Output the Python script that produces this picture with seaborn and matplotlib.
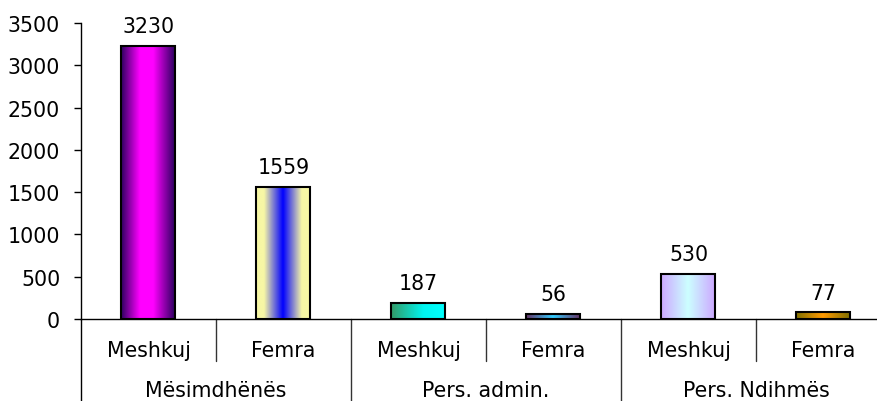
import numpy as np
import pandas as pd
import matplotlib
matplotlib.use("Agg")
import matplotlib.pyplot as plt
import seaborn as sns
from matplotlib.colors import LinearSegmentedColormap

groups = ["Mësimdhënës", "Pers. admin.", "Pers. Ndihmës"]
genders = ["Meshkuj", "Femra"]
values = [3230, 1559, 187, 56, 530, 77]
yticks = [0, 500, 1000, 1500, 2000, 2500, 3000, 3500]

bar_gradients = [
    [(0, "#2c0060"), (0.35, "#ff00ff"), (0.6, "#ff00ff"), (1, "#2c0060")],
    [(0, "#f7f7a5"), (0.15, "#f7f7a5"), (0.5, "#0000ff"), (0.85, "#f7f7a5"), (1, "#f7f7a5")],
    [(0, "#339966"), (0.6, "#00f5f0"), (1, "#00ffff")],
    [(0, "#663366"), (0.5, "#33ccff"), (1, "#663366")],
    [(0, "#cca8ff"), (0.5, "#ccffff"), (1, "#cca8ff")],
    [(0, "#807000"), (0.5, "#ff9900"), (1, "#807000")],
]

slots = [f"{g}|{s}" for g in groups for s in genders]
df = pd.DataFrame({"slot": slots, "value": values})

sns.set_style("white")
plt.rcParams["font.family"] = ["DejaVu Sans"]
plt.rcParams["text.color"] = "black"
plt.rcParams["xtick.color"] = "black"
plt.rcParams["ytick.color"] = "black"
FS = 14.8
AX_H = 296.0

fig = plt.figure(figsize=(8.78, 4.02), dpi=100)
ax = fig.add_axes([81 / 878, 82 / 402, 810 / 878, AX_H / 402])

sns.barplot(data=df, x="slot", y="value", order=slots, width=0.4,
            color="white", edgecolor="black", linewidth=1.5, ax=ax, zorder=3)

grad = np.linspace(0, 1, 256)[np.newaxis, :]
for patch, stops in zip(ax.patches, bar_gradients):
    cmap = LinearSegmentedColormap.from_list("g", stops)
    x0, y0 = patch.get_x(), patch.get_y()
    w, h = patch.get_width(), patch.get_height()
    im = ax.imshow(grad, extent=[x0, x0 + w, y0, y0 + h], aspect="auto",
                   cmap=cmap, zorder=2, interpolation="bilinear")
    im.set_clip_path(patch)
    patch.set_facecolor("none")
    ax.annotate(f"{int(patch.get_height())}", (x0 + w / 2, y0 + h),
                xytext=(0, 10), textcoords="offset points",
                ha="center", va="baseline", fontsize=FS, color="black")

ax.set_xlim(-0.5, len(slots) - 0.5)
ax.set_ylim(0, 3500)
ax.set_yticks(yticks)
ax.set_yticklabels([str(v) for v in yticks], fontsize=FS)
ax.tick_params(axis="y", which="both", left=True, length=5, width=1, color="black", pad=10)
ax.set_xticks(range(len(slots)))
ax.set_xticklabels([])
ax.tick_params(axis="x", length=0)
ax.set_xlabel("")
ax.set_ylabel("")

for side in ["top", "right"]:
    ax.spines[side].set_visible(False)
for side in ["left", "bottom"]:
    ax.spines[side].set_color("black")
    ax.spines[side].set_linewidth(1)

trans = ax.get_xaxis_transform()
ax.plot([-0.5, -0.5], [0, -82 / AX_H], transform=trans, color="black", lw=1, clip_on=False)
for i in range(1, len(slots)):
    xb = i - 0.5
    depth = 82 if i % 2 == 0 else 42
    ax.plot([xb, xb], [0, -depth / AX_H], transform=trans, color="#333333", lw=1, clip_on=False)

for i, s in enumerate(slots):
    ax.text(i, -36.7 / AX_H, s.split("|")[1], transform=trans, ha="center",
            va="baseline", fontsize=FS)
for gi, g in enumerate(groups):
    ax.text(gi * 2 + 0.5, -76.7 / AX_H, g, transform=trans, ha="center",
            va="baseline", fontsize=FS)

fig.savefig("out.png", dpi=100)
